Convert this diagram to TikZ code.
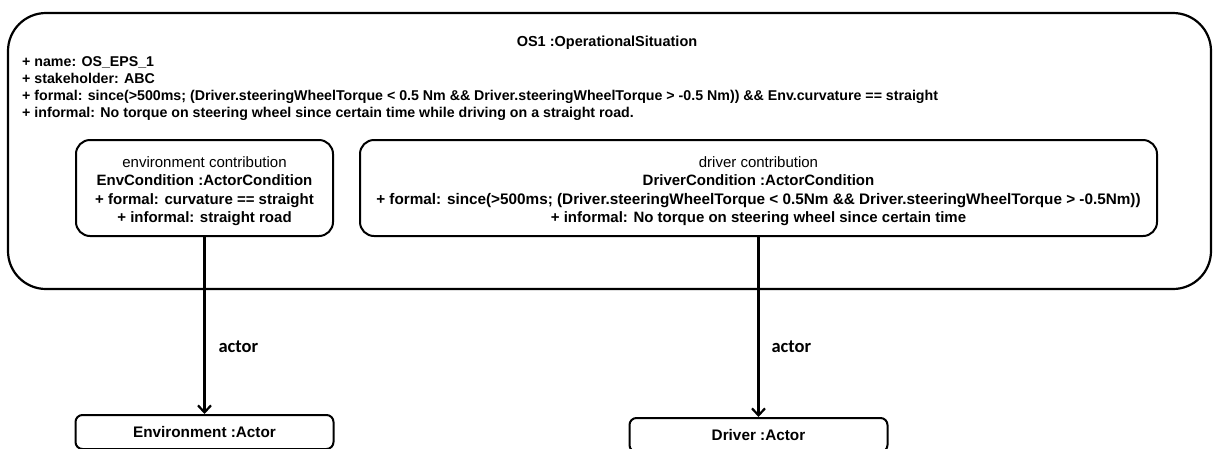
\documentclass[tikz,border=0pt]{standalone}
\usepackage{fontspec}
\setmainfont{Liberation Sans}
\newfontfamily\rolefont{Carlito}
\usetikzlibrary{arrows.meta}
\newcommand\contribfont{\fontsize{15}{18.3}\selectfont\mdseries}
% taller first line, pushes the compartment text slightly down
\newcommand\toppad{\rule{0pt}{17pt}}

\begin{document}
\begin{tikzpicture}[x=1pt, y=-1pt,
  frame/.style={draw, line width=2.2pt, rounded corners=38pt, inner sep=0pt},
  condbox/.style={draw, line width=2pt, rounded corners=14pt, align=center,
    inner sep=0pt, minimum height=96pt, font=\fontsize{15}{18.3}\selectfont\bfseries},
  actorbox/.style={draw, line width=2pt, rounded corners=7pt, inner sep=0pt,
    minimum width=258pt, minimum height=34pt, font=\fontsize{15.3}{17}\selectfont\bfseries},
  assoc/.style={line width=2.2pt, -{Straight Barb[length=7pt, width=13pt, line width=2.2pt]}},
  rolelabel/.style={font=\rolefont\fontsize{18.5}{20}\selectfont\bfseries, anchor=west, inner sep=0pt}
]
\useasboundingbox (0,0) rectangle (1213,448);
\clip (0,0) rectangle (1213,448);

% operational situation container
\node[frame, minimum width=1203pt, minimum height=276pt] (os) at (609.5,151) {};
\node[font=\fontsize{14.5}{16}\selectfont\bfseries] (ostitle) at (607,43) {OS1 :OperationalSituation};
\node[anchor=north west, align=left, inner sep=0pt,
  font=\fontsize{14.2}{16.8}\selectfont\bfseries] (osattrs) at (22,56.5)
  {+ name: OS\_EPS\_1\\
   + stakeholder: ABC\\
   + formal: since(>500ms; (Driver.steeringWheelTorque < 0.5 Nm \&\& Driver.steeringWheelTorque > -0.5 Nm)) \&\& Env.curvature == straight\\
   + informal: No torque on steering wheel since certain time while driving on a straight road.};

% actor conditions
\node[condbox, minimum width=257pt] (envc) at (204.5,188)
  {\toppad{\contribfont environment contribution}\\
   EnvCondition :ActorCondition\\
   + formal: curvature == straight\\
   + informal: straight road};
\node[condbox, minimum width=797pt] (drvc) at (758.5,188)
  {\toppad{\contribfont driver contribution}\\
   DriverCondition :ActorCondition\\
   {\fontsize{15.3}{18.3}\selectfont + formal: since(>500ms; (Driver.steeringWheelTorque < 0.5Nm \&\& Driver.steeringWheelTorque > -0.5Nm))}\\
   + informal: No torque on steering wheel since certain time};

% actors
\node[actorbox] (enva) at (204.5,432) {Environment :Actor};
\node[actorbox] (drva) at (758.5,435) {Driver :Actor};

% associations
\draw[assoc] (envc.south) -- node[rolelabel, pos=0.62, xshift=13pt] {actor} (enva.north);
\draw[assoc] (drvc.south) -- node[rolelabel, pos=0.61, xshift=12pt] {actor} (drva.north);
\end{tikzpicture}
\end{document}
